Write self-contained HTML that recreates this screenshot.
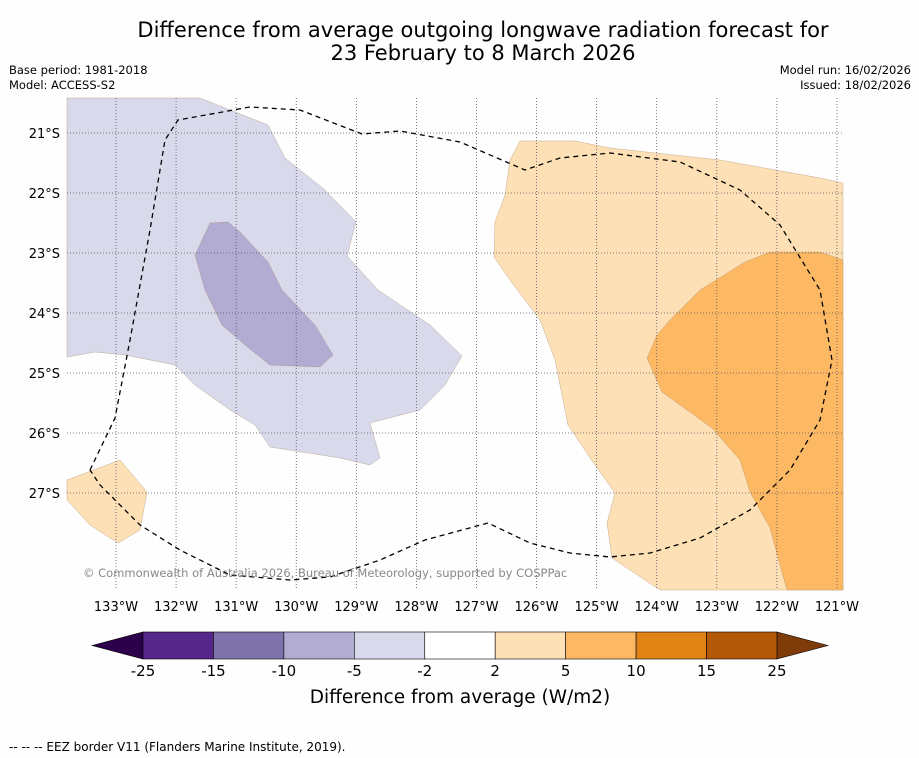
<!DOCTYPE html>
<html><head><meta charset="utf-8">
<style>
body{margin:0;background:#fefefe;font-family:"DejaVu Sans","Liberation Sans",sans-serif;}
#wrap{position:relative;width:919px;height:758px;overflow:hidden;background:#fefefe}
.t{position:absolute;white-space:nowrap;color:#000}
svg text{font-family:"DejaVu Sans","Liberation Sans",sans-serif;}
</style></head><body>
<div id="wrap">
<div class="t" style="left:0;width:966px;top:19px;text-align:center;font-size:21px;line-height:23px">Difference from average outgoing longwave radiation forecast for<br>23 February to 8 March 2026</div>
<div class="t" style="left:9px;top:63px;font-size:11.5px;line-height:15px">Base period: 1981-2018<br>Model: ACCESS-S2</div>
<div class="t" style="right:8px;top:63px;font-size:11.5px;line-height:15px;text-align:right">Model run: 16/02/2026<br>Issued: 18/02/2026</div>
<svg id="svg" width="919" height="758" style="position:absolute;left:0;top:0"></svg>
<div class="t" style="left:9px;top:740px;font-size:12px">--  --  -- EEZ border V11 (Flanders Marine Institute, 2019).</div>
</div>
<script>
const levels=[-25,-15,-10,-5,-2,2,5,10,15,25];
const colors=["#542788","#8073ac","#b2abd2","#d8daeb","#ffffff","#fee0b6","#fdb863","#e08214","#b35806"];
const lons=[133,132,131,130,129,128,127,126,125,124,123,122,121];
const lats=[21,22,23,24,25,26,27];
const NS="http://www.w3.org/2000/svg";
const svg=document.getElementById('svg');
function mk(t,a,p){const e=document.createElementNS(NS,t);for(const k in a)e.setAttribute(k,a[k]);(p||svg).appendChild(e);return e;}
const x=lon=>116+(133-lon)*60.08;
const y=lat=>133+(lat-21)*60;
const X0=67,X1=843,Y0=98,Y1=590;
function poly(pts,fill,name){const e=mk('polygon',{points:pts.map(p=>p.join(',')).join(' '),fill:fill,stroke:'#a08060','stroke-width':0.3});

}
const cp=mk('clipPath',{id:'cp'});mk('rect',{x:X0,y:Y0,width:X1-X0,height:Y1-Y0},cp);
poly([[67,98],[200,98],[268,125],[285,158],[325,190],[356,222],[347,256],[378,290],[430,325],[462,356],[445,385],[420,410],[370,423],[380,458],[370,465],[340,458],[270,447],[255,425],[230,410],[195,385],[175,365],[125,355],[95,352],[67,357]],"#d8daeb","anomaly-neg-2-5");
poly([[210,223],[228,222],[240,232],[268,262],[282,290],[315,325],[333,355],[320,367],[270,365],[245,345],[222,325],[205,290],[195,255]],"#b2abd2","anomaly-neg-5-10");
poly([[520,141],[575,141],[610,148],[720,160],[820,178],[843,183],[843,590],[660,590],[612,558],[607,523],[615,493],[595,465],[568,425],[555,360],[540,320],[510,280],[494,257],[495,222],[505,195],[510,160]],"#fee0b6","anomaly-pos-2-5");
poly([[843,260],[820,252],[770,252],[745,262],[700,290],[670,320],[657,335],[647,358],[662,392],[712,428],[740,460],[750,492],[770,528],[780,565],[787,590],[843,590]],"#fdb863","anomaly-pos-5-10");
poly([[67,480],[120,460],[147,492],[140,530],[118,543],[90,525],[67,500]],"#fee0b6","anomaly-pos-small");
lons.forEach(l=>{const g=mk('line',{x1:x(l),x2:x(l),y1:Y0,y2:Y1,stroke:'#556','stroke-width':0.8,'stroke-dasharray':'1,2'});

const t=mk('text',{x:x(l),y:611,'font-size':13,'text-anchor':'middle'});t.textContent=l+'°W';
});
lats.forEach(l=>{const g=mk('line',{x1:X0,x2:X1,y1:y(l),y2:y(l),stroke:'#556','stroke-width':0.8,'stroke-dasharray':'1,2'});

const t=mk('text',{x:60,y:y(l)+5,'font-size':13,'text-anchor':'end'});t.textContent=l+'°S';
});
const eez=mk('polyline',{points:[[90,470],[115,418],[130,340],[150,230],[165,140],[178,120],[250,107],[300,110],[362,134],[400,131],[460,142],[525,170],[560,158],[610,153],[680,162],[740,190],[780,225],[820,290],[832,360],[820,420],[790,470],[750,510],[700,538],[650,553],[610,557],[570,553],[530,543],[488,523],[425,540],[380,560],[330,577],[290,580],[230,575],[180,550],[140,525],[100,485],[90,470]].map(p=>p.join(',')).join(' '),fill:'none',stroke:'#000','stroke-width':1.3,'stroke-dasharray':'5,4','clip-path':'url(#cp)'});

const cr=mk('text',{x:83,y:577,'font-size':11.5,fill:'#888'});cr.textContent='© Commonwealth of Australia 2026, Bureau of Meteorology, supported by COSPPac';

const cbx=i=>143+i*70.44, cy0=632, cy1=659;
const lt=mk('polygon',{points:`92,645.5 ${cbx(0)},${cy0} ${cbx(0)},${cy1}`,fill:'#2d004b',stroke:'#000','stroke-width':0.6});

const rt=mk('polygon',{points:`828,645.5 ${cbx(9)},${cy0} ${cbx(9)},${cy1}`,fill:'#7f3b08',stroke:'#000','stroke-width':0.6});

colors.forEach((c,i)=>{const r=mk('rect',{x:cbx(i),y:cy0,width:70.44,height:cy1-cy0,fill:c,stroke:'#000','stroke-width':0.6});
});
levels.forEach((v,i)=>{const t=mk('text',{x:cbx(i),y:676,'font-size':15,'text-anchor':'middle'});t.textContent=v;
});
const ct=mk('text',{x:460,y:703,'font-size':18.5,'text-anchor':'middle'});ct.textContent='Difference from average (W/m2)';

</script>
</body></html>
